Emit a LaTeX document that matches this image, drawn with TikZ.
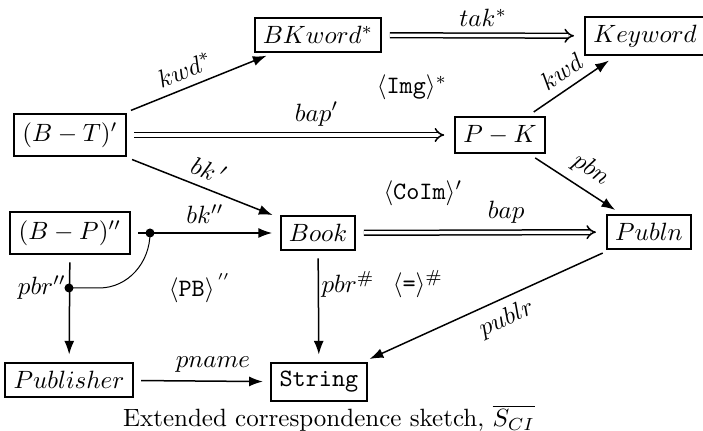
\documentclass[tikz,border=0pt]{standalone}
\usepackage{tikz}
\usetikzlibrary{arrows.meta, positioning, calc}

\begin{document}
\begin{tikzpicture}[
    x=0.4pt, y=-0.4pt,
    box/.style={rectangle, draw, thick, inner sep=3.3pt},
    arr/.style={-{Latex[length=5.5pt,width=4pt]}, semithick, shorten >=3pt, shorten <=3pt},
    dbl/.style={double, double distance=1.3pt, semithick, -{Implies}, shorten >=4pt, shorten <=3pt},
    dot/.style={circle, fill, inner sep=0pt, minimum size=3.6pt}
]
\useasboundingbox (0,0) rectangle (703,431);
\node[box] (bt) at (70,135) {$(B-T)'$};
\node[box] (bkword) at (318,35) {$BKword^*$};
\node[box] (keyword) at (645,36) {$Keyword$};
\node[box] (pk) at (500,135) {$P-K$};
\node[box] (bp) at (70,233) {$(B-P)''$};
\node[box] (book) at (318,233) {$Book$};
\node[box] (publn) at (649,232) {$Publn$};
\node[box] (publisher) at (69,380) {$Publisher$};
\node[box] (string) at (319,382) {\texttt{String}};
\node (img) at (412,87) {$\langle\mathtt{Img}\rangle^*$};
\node (coim) at (423,193) {$\langle\mathtt{CoIm}\rangle'$};
\node (pb) at (200,288) {$\langle\mathtt{PB}\rangle^{^{\,\prime\prime}}$};
\node (eq) at (418,284) {$\langle\texttt{=}\rangle^{\#}$};
\node (caption) at (329,418) {Extended correspondence sketch, $\overline{S_{CI}}$};
\coordinate (d1) at (150,233);
\coordinate (d2) at (69,288);
\draw[arr] (bt) -- node[sloped, above, pos=.45] {$kwd^*$} (bkword);
\draw[dbl] (bkword) -- node[above] {$tak^*$} (keyword);
\draw[dbl] (bt) -- node[above, pos=.58] {$bap'$} (pk);
\draw[arr] (pk) -- node[sloped, above] {$kwd$} (keyword);
\draw[arr] (bt) -- node[sloped, above] {$bk\,'$} (book);
\draw[arr] (pk) -- node[sloped, above, pos=.55] {$pbn$} (publn);
\draw[arr] (bp) -- node[above] {$bk''$} (book);
\draw[dbl] (book) -- node[above, pos=.6] {$bap$} (publn);
\draw[arr] (bp) -- (publisher);
\draw[arr] (book) -- node[right, pos=.3, inner sep=1pt] {$pbr^{\#}$} (string);
\draw[arr] (publisher) -- node[above, pos=.58] {$pname$} (string);
\draw[arr] (publn) -- node[sloped, below, pos=.45] {$publr$} (string);
\draw[thin] (d2) -- ++(30,0) to[out=0, in=-90] (d1);
\node[dot] at (d1) {};
\node[dot] at (d2) {};
\node[anchor=east, inner sep=1pt] at (d2) {$pbr''$};
\end{tikzpicture}
\end{document}
